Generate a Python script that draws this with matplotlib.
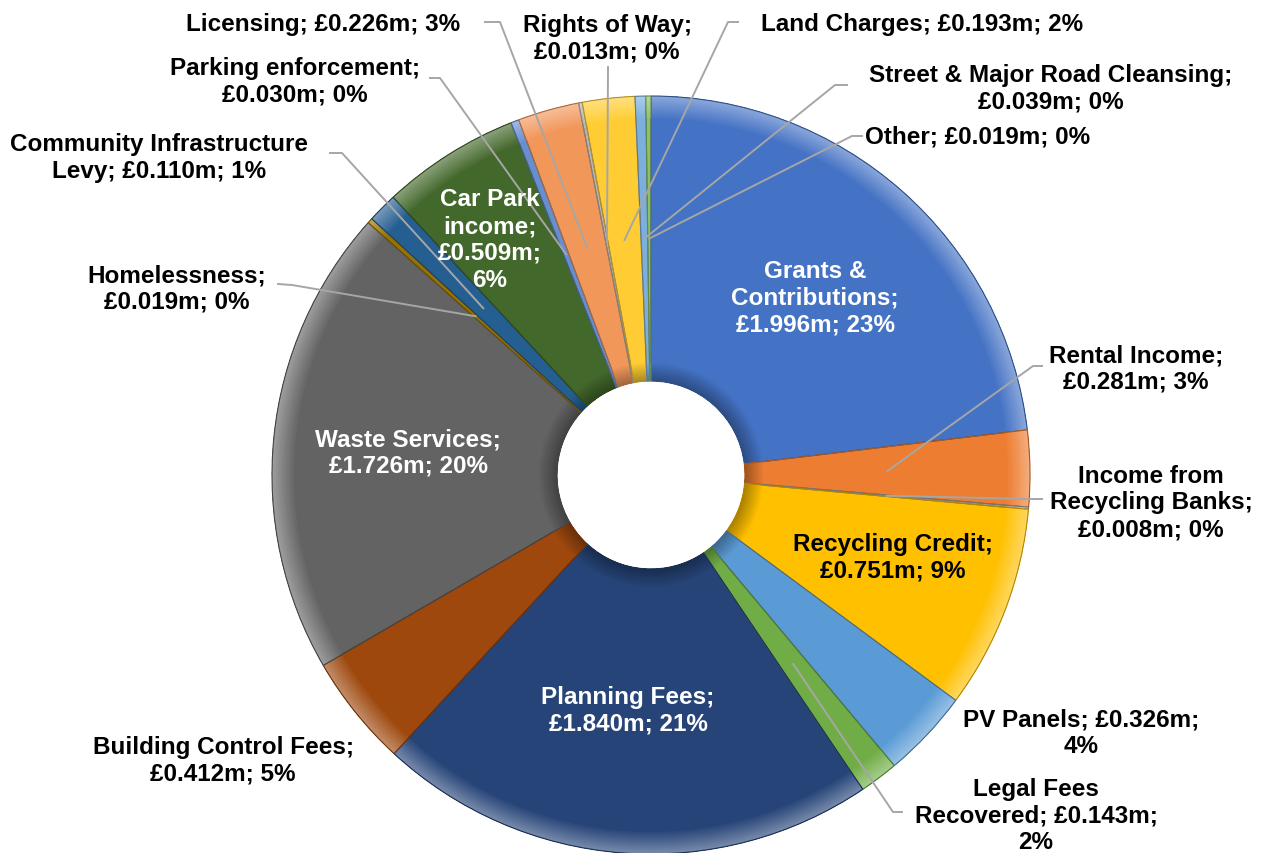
import matplotlib.pyplot as plt
from matplotlib.patches import Wedge
from matplotlib.colors import to_rgb
import numpy as np

plt.rcParams['font.family'] = ['Liberation Sans', 'DejaVu Sans']

# income streams, clockwise from 12 o'clock (£m)
categories = ['Grants & Contributions', 'Rental Income', 'Income from Recycling Banks',
              'Recycling Credit', 'PV Panels', 'Legal Fees Recovered', 'Planning Fees',
              'Building Control Fees', 'Waste Services', 'Homelessness',
              'Community Infrastructure Levy', 'Car Park income', 'Parking enforcement',
              'Licensing', 'Rights of Way', 'Land Charges', 'Street & Major Road Cleansing',
              'Other']
values = [1.996, 0.281, 0.008, 0.751, 0.326, 0.143, 1.840, 0.412, 1.726, 0.019,
          0.110, 0.509, 0.030, 0.226, 0.013, 0.193, 0.039, 0.019]
colors = ['#4472C4', '#ED7D31', '#A5A5A5', '#FFC000', '#5B9BD5', '#70AD47',
          '#264478', '#9E480E', '#636363', '#997300', '#255E91', '#43682B',
          '#698ED0', '#F1975A', '#B7B7B7', '#FFCD33', '#7CAFDD', '#8CC168']
# how each label wraps: {v} value, {p} percent
label_fmt = ['Grants &\nContributions;\n{v}; {p}', 'Rental Income;\n{v}; {p}',
             'Income from\nRecycling Banks;\n{v}; {p}', 'Recycling Credit;\n{v}; {p}',
             'PV Panels; {v};\n{p}', 'Legal Fees\nRecovered; {v};\n{p}',
             'Planning Fees;\n{v}; {p}', 'Building Control Fees;\n{v}; {p}',
             'Waste Services;\n{v}; {p}', 'Homelessness;\n{v}; {p}',
             'Community Infrastructure\nLevy; {v}; {p}', 'Car Park\nincome;\n{v};\n{p}',
             'Parking enforcement;\n{v}; {p}', 'Licensing; {v}; {p}',
             'Rights of Way;\n{v}; {p}', 'Land Charges; {v}; {p}',
             'Street & Major Road Cleansing;\n{v}; {p}', 'Other; {v}; {p}']

# layout (pixel positions, y down): label centre, text colour, leader start, elbow
label_pos = [(815, 298), (1136, 369), (1151, 503), (893, 558), (1081, 733),
             (1036, 816), (628, 711), (223, 761), (408, 453), (177, 289),
             (159, 158), (490, 240), (295, 82), (323, 25), (607, 39),
             (922, 25), (1051, 89), (978, 137)]
text_col = ['white', 'black', 'black', 'black', 'black', 'black', 'white', 'black',
            'white', 'black', 'black', 'white', 'black', 'black', 'black', 'black',
            'black', 'black']
leaders = {1: [(1042, 367), (1033, 367)], 2: [(1042, 500), (1030, 500)],
           5: [(902, 813), (893, 813)], 9: [(278, 285), (292, 286)],
           10: [(330, 154), (342, 154)], 12: [(430, 79), (440, 79)],
           13: [(485, 23), (500, 23)], 14: [(608, 68), (608, 70)],
           15: [(738, 23), (728, 23)], 16: [(847, 86), (835, 86)],
           17: [(862, 137), (852, 137)]}

W, H = 1266, 854
cx, cy = 651, 476
r_out, r_in = 379, 94


def shade(c, f):
    c = np.array(to_rgb(c))
    if f >= 0:
        return tuple(c + (1 - c) * f)
    return tuple(c * (1 + f))


fig = plt.figure(figsize=(W / 100, H / 100), dpi=100)
ax = fig.add_axes([0, 0, 1, 1])

# y axis runs downward, so counterclockwise in data is clockwise on screen
wedges, _ = ax.pie(values, colors=colors, startangle=-90, counterclock=True,
                   radius=r_out, center=(cx, cy),
                   wedgeprops=dict(width=r_out - r_in, linewidth=0))

# rough bevel: light rim outside, darker band at the hole (overlapping, no seams)
n = 10
for w, c in zip(wedges, colors):
    t1, t2 = w.theta1, w.theta2
    for k in range(n):
        ax.add_patch(Wedge((cx, cy), r_out, t1, t2, width=(n - k) * 2.2,
                           facecolor=shade(c, 0.36 * (k + 1) / n), linewidth=0))
        ax.add_patch(Wedge((cx, cy), r_in + (n - k) * 1.8, t1, t2, width=(n - k) * 1.8,
                           facecolor=shade(c, -0.32 * (k + 1) / n), linewidth=0))
    ax.add_patch(Wedge((cx, cy), r_out, t1, t2, width=r_out - r_in,
                       facecolor='none', edgecolor=shade(c, -0.3), linewidth=0.8))

total = sum(values)
r_mid = (r_out + r_in) / 2
for i, (v, fmt) in enumerate(zip(values, label_fmt)):
    txt = fmt.format(v='£%.3fm' % v, p='%d%%' % round(v / total * 100))
    ax.text(label_pos[i][0], label_pos[i][1], txt, ha='center', va='center',
            multialignment='center', fontsize=17.5, fontweight='bold',
            color=text_col[i], linespacing=1.22, zorder=5)
    if i in leaders:
        w = wedges[i]
        a = np.deg2rad((w.theta1 + w.theta2) / 2)
        end = (cx + r_mid * np.cos(a), cy + r_mid * np.sin(a))
        pts = leaders[i] + [end]
        ax.plot([p[0] for p in pts], [p[1] for p in pts], color='#A6A6A6',
                linewidth=1.4, zorder=4)

ax.set_xlim(0, W)
ax.set_ylim(H, 0)
ax.set_aspect('equal')
ax.axis('off')
fig.savefig('out.png', dpi=100)
